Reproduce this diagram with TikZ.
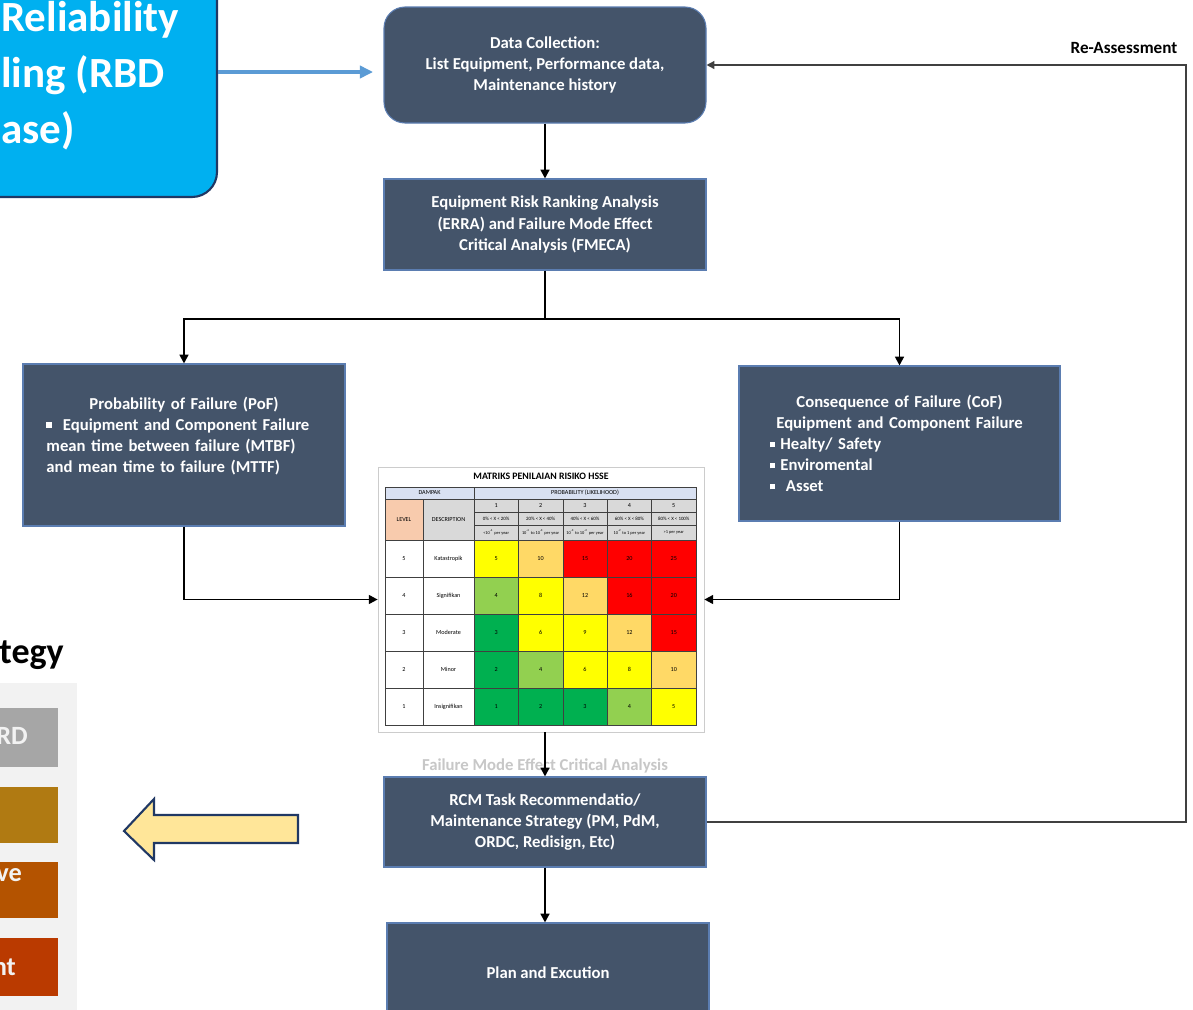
\documentclass[tikz,border=0pt]{standalone}
\usepackage{fontspec}
\setmainfont{Carlito}
\usetikzlibrary{arrows.meta,calc,positioning}
\definecolor{slate}{HTML}{44546A}
\definecolor{boxedge}{HTML}{5B7DB1}
\definecolor{rbdblue}{HTML}{00B0F0}
\definecolor{navy}{HTML}{203864}
\definecolor{linkblue}{HTML}{5B9BD5}
\definecolor{hdrblue}{HTML}{D9E1F2}
\definecolor{peach}{HTML}{F8CBAD}
\definecolor{cellgray}{HTML}{D9D9D9}
\definecolor{mY}{HTML}{FFFF00}
\definecolor{mO}{HTML}{FFD966}
\definecolor{mR}{HTML}{FF0000}
\definecolor{mLG}{HTML}{92D050}
\definecolor{mG}{HTML}{00B050}
\definecolor{panelgray}{HTML}{F2F2F2}
\definecolor{hardgray}{HTML}{A6A6A6}
\definecolor{ochre}{HTML}{B07A12}
\definecolor{rust}{HTML}{B45300}
\definecolor{brick}{HTML}{BA3A00}
\definecolor{pale}{HTML}{FFE699}
\newcommand{\sqbul}{\raisebox{0.3ex}{\rule{0.32em}{0.32em}}}
\tikzset{
  procbox/.style={draw=boxedge, line width=0.6pt, fill=slate, text=white,
    font=\bfseries\fontsize{9.5}{12}\selectfont, align=center,
    minimum width=6.44cm, inner sep=2pt},
  flow/.style={-{Triangle[length=5pt,width=5pt]}, line width=1.1pt},
  reloop/.style={-{Triangle[length=4.5pt,width=4.5pt]}, line width=0.85pt, black!75},
  gridline/.style={draw=black!75, line width=0.3pt},
  cellnum/.style={font=\fontsize{3.5}{4}\selectfont, inner sep=0pt},
  strattext/.style={anchor=east, text=panelgray, font=\bfseries\fontsize{15}{18}\selectfont}
}

\begin{document}
\begin{tikzpicture}
    \useasboundingbox (0,0) rectangle (23.86,-20.2);
    \clip (0,0) rectangle (23.86,-20.2);
    \fill[white] (0,0) rectangle (23.86,-20.2);
    % RBD box (cut at the border)
    \node[draw=navy, line width=1.2pt, fill=rbdblue, rounded corners=0.5cm,
          minimum width=10.34cm, minimum height=5cm] (rbd) at (-0.83,-1.44) {};
    \node[anchor=west, text=white, align=left, font=\bfseries\fontsize{24.5}{32}\selectfont]
          (rbdtext) at (-0.1,-1.51) {Reliability\\ling (RBD\\ase)};
    % Main flow
    \node[procbox, rounded corners=0.42cm, minimum height=2.32cm] (dc) at (10.9,-1.3)
         {Data Collection:\\List Equipment, Performance data,\\Maintenance history};
    \coordinate (dcin) at (7.46,-1.44);
    \draw[-{Triangle[length=7.5pt,width=7pt]}, linkblue, line width=1.8pt] (rbd.east) -- (dcin);
    \node[procbox, minimum height=1.82cm] (erra) at (10.9,-4.49)
         {Equipment Risk Ranking Analysis\\(ERRA) and Failure Mode Effect\\Critical Analysis (FMECA)};
    \node[procbox, minimum height=3.24cm, text width=5.5cm, align=left] (pof) at (3.68,-8.9)
         {\makebox[\linewidth]{Probability of Failure (PoF)}\\
          \sqbul\ \ Equipment and Component Failure\\
          mean time between failure (MTBF)\\
          and mean time to failure (MTTF)\\ ~};
    \node[procbox, minimum width=6.42cm, minimum height=3.1cm, text width=5.2cm, align=left] (cof) at (17.99,-8.87)
         {\makebox[\linewidth]{Consequence of Failure (CoF)}\\
          \makebox[\linewidth]{Equipment and Component Failure}\\
          \sqbul\ Healty/ Safety\\
          \sqbul\ Enviromental\\
          \sqbul\ \ Asset};
    \coordinate (split) at ($(erra.south)+(0,-0.96)$);
    \draw[line width=1.1pt] (erra.south) -- (split);
    \draw[flow] (split) -| (pof.north);
    \draw[flow] (split) -| (cof.north);
    \draw[flow] (dc.south) -- (erra.north);
    % Risk matrix
    \node[draw=black!20, fill=white, minimum width=6.52cm, minimum height=5.3cm, inner sep=0pt] (risk) at (10.82,-11.99) {};
    \node[font=\bfseries\fontsize{5.6}{6}\selectfont, inner sep=0pt] (mattitle) at (10.82,-9.52) {MATRIKS PENILAIAN RISIKO HSSE};
    \fill[hdrblue] (7.70,-9.74) rectangle (13.92,-9.98);
    \fill[peach] (7.70,-9.98) rectangle (8.46,-10.80);
    \fill[cellgray] (8.46,-9.98) rectangle (13.92,-10.80);
    \draw[gridline] (7.70,-9.74) rectangle (9.48,-9.98);
    \draw[gridline] (9.48,-9.74) rectangle (13.92,-9.98);
    \draw[gridline] (7.70,-9.98) rectangle (8.46,-10.80);
    \draw[gridline] (8.46,-9.98) rectangle (9.48,-10.80);
    \node[cellnum] (dampak) at (8.59,-9.86) {DAMPAK};
    \node[cellnum] (prob) at (11.70,-9.86) {PROBABILITY (LIKELIHOOD)};
    \node[cellnum] (level) at (8.08,-10.39) {LEVEL};
    \node[cellnum] (descr) at (8.97,-10.39) {DESCRIPTION};
    \foreach \pct/\freq [count=\col] in {{0\% < X < 20\%}/{<10\textsuperscript{-4} per year},
        {20\% < X < 40\%}/{10\textsuperscript{-4} to 10\textsuperscript{-3} per year},
        {40\% < X < 60\%}/{10\textsuperscript{-3} to 10\textsuperscript{-2} per year},
        {60\% < X < 80\%}/{10\textsuperscript{-2} to 1 per year}, {80\% < X < 100\%}/{>1 per year}} {
      \pgfmathsetmacro\xl{9.48+0.888*(\col-1)}
      \draw[gridline] (\xl,-9.98) rectangle ++(0.888,-0.26);
      \draw[gridline] (\xl,-10.24) rectangle ++(0.888,-0.26);
      \draw[gridline] (\xl,-10.50) rectangle ++(0.888,-0.30);
      \node[cellnum] (pnum-\col) at (\xl+0.444,-10.11) {\col};
      \node[cellnum, font=\fontsize{2.8}{3}\selectfont] (ppct-\col) at (\xl+0.444,-10.37) {\pct};
      \node[cellnum, font=\fontsize{2.5}{3}\selectfont] (pfrq-\col) at (\xl+0.444,-10.65) {\freq};
    }
    \foreach \lv/\desc/\cols [count=\row] in {5/Katastropik/{mY,mO,mR,mR,mR},
        4/Signifikan/{mLG,mY,mO,mR,mR}, 3/Moderate/{mG,mY,mY,mO,mR},
        2/Minor/{mG,mLG,mY,mY,mO}, 1/Insignifikan/{mG,mG,mG,mLG,mY}} {
      \pgfmathsetmacro\yt{-10.80-0.74*(\row-1)}
      \foreach \clr [count=\col] in \cols {
        \pgfmathsetmacro\xl{9.48+0.888*(\col-1)}
        \pgfmathtruncatemacro\val{\lv*\col}
        \draw[gridline, fill=\clr] (\xl,\yt) rectangle ++(0.888,-0.74);
        \node[cellnum] (cell-\row-\col) at (\xl+0.444,\yt-0.37) {\val};
      }
      \draw[gridline] (7.70,\yt) rectangle ++(0.76,-0.74);
      \draw[gridline] (8.46,\yt) rectangle ++(1.02,-0.74);
      \node[cellnum] (lvl-\row) at (8.08,\yt-0.37) {\lv};
      \node[cellnum] (desc-\row) at (8.97,\yt-0.37) {\desc};
    }
    \draw[flow] (pof.south) |- (risk.west);
    \draw[flow] (cof.south) |- (risk.east);
    % Lower flow
    \node[procbox, minimum height=1.8cm] (rcm) at (10.9,-16.44)
         {RCM Task Recommendatio/\\Maintenance Strategy (PM, PdM,\\ORDC, Redisign, Etc)};
    \node[font=\bfseries\fontsize{9.5}{11}\selectfont, text=black!22] (fmeca) at (10.9,-15.32)
         {Failure Mode Effect Critical Analysis};
    \draw[flow] (risk.south -| rcm.north) -- (rcm.north);
    \node[procbox, minimum height=2cm] (plan) at (10.96,-19.46) {Plan and Excution};
    \draw[flow] (rcm.south) -- (rcm.south |- plan.north);
    % Re-assessment loop
    \coordinate (loopx) at (23.72,-1.28);
    \draw[reloop] (rcm.east) -| (loopx) |- (dc.east);
    \node[font=\bfseries\fontsize{9.75}{12}\selectfont] (reass) at (22.48,-0.96) {Re-Assessment};
    % Strategy panel (cut at the border)
    \node[anchor=base east, font=\bfseries\fontsize{20.5}{24}\selectfont] (strategy) at (1.40,-13.26) {ategy};
    \fill[panelgray] (0,-13.66) rectangle (1.54,-20.3);
    \foreach \clr/\yc/\h [count=\i] in {hardgray/-14.75/1.18, ochre/-16.30/1.12, rust/-17.80/1.12, brick/-19.34/1.16}
      \node[fill=\clr, minimum width=1.7cm, minimum height=\h cm, inner sep=0pt] (strat-\i) at (0.31,\yc) {};
    \node[strattext] (hardtxt) at (0.68,-14.72) {RD};
    \node[strattext] (rusttxt) at (0.56,-17.50) {ve};
    \node[strattext] (bricktxt) at (0.44,-19.34) {nt};
    % Yellow arrow
    \draw[draw=navy, fill=pale, line width=1.2pt, miter limit=10]
         (2.48,-16.62) -- (3.08,-15.98) -- (3.08,-16.30) -- (5.96,-16.30)
         -- (5.96,-16.86) -- (3.08,-16.86) -- (3.08,-17.20) -- cycle;
\end{tikzpicture}
\end{document}
